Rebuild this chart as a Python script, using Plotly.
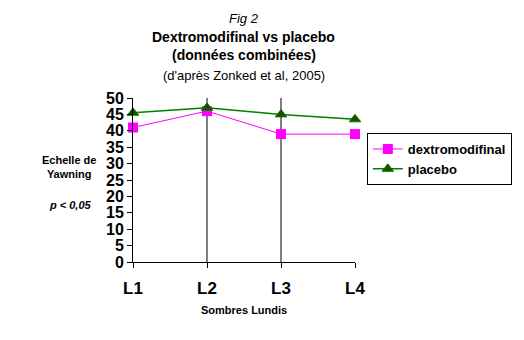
import plotly.graph_objects as go

categories = ["L1", "L2", "L3", "L4"]
dextro = [41, 46, 39, 39]
placebo = [45.5, 47, 45, 43.5]
y_ticks = list(range(0, 55, 5))
guide_cats = ["L2", "L3"]

xs = list(range(len(categories)))
FONT = "Liberation Sans, Arial, sans-serif"

L, R, T, B = 133, 166, 98, 78
W, H = 524, 340
pw, ph = W - L - R, H - T - B

def px(x):
    return (x - L) / pw

def py(y):
    return (H - B - y) / ph

fig = go.Figure()
fig.add_trace(go.Scatter(
    x=xs, y=dextro, name="<b>dextromodifinal</b>", mode="lines+markers",
    line=dict(color="#FF00FF", width=1),
    marker=dict(symbol="square", size=10, color="#FF00FF"),
    cliponaxis=False))
fig.add_trace(go.Scatter(
    x=xs, y=placebo, name="<b>placebo</b>", mode="lines+markers",
    line=dict(color="#008000", width=1.5),
    marker=dict(symbol="triangle-up", size=10, color="#1f4a00", line=dict(color="#008000", width=1)),
    cliponaxis=False))

for c in guide_cats:
    i = categories.index(c)
    fig.add_shape(type="line", xref="x", yref="y", x0=i, x1=i, y0=0, y1=max(y_ticks),
                  line=dict(color="black", width=1), layer="below")

def ann(text, x, y, size):
    return dict(text=text, x=px(x), y=py(y), xref="paper", yref="paper", showarrow=False,
                xanchor="center", yanchor="middle", font=dict(size=size, family=FONT, color="black"))

fig.update_layout(
    width=W, height=H,
    margin=dict(l=L, r=R, t=T, b=B),
    paper_bgcolor="white", plot_bgcolor="white",
    font=dict(family=FONT, color="black"),
    showlegend=True,
    legend=dict(x=px(370), y=py(133), xanchor="left", yanchor="top",
                bordercolor="black", borderwidth=1, bgcolor="white",
                font=dict(size=13, family=FONT), tracegroupgap=0,
                itemwidth=30),
    xaxis=dict(range=[0, len(categories) - 1], tickvals=xs, ticktext=[f"<b>{c}</b>" for c in categories],
               showgrid=False, zeroline=False, showline=True, linecolor="black", linewidth=1,
               ticks="outside", ticklen=5, tickcolor="black", ticklabelstandoff=6,
               tickfont=dict(size=17, family=FONT)),
    yaxis=dict(range=[0, 50], tickvals=y_ticks, ticktext=[f"<b>{v}</b>" for v in y_ticks],
               showgrid=False, zeroline=False, showline=True, linecolor="black", linewidth=1,
               ticks="outside", ticklen=5, tickcolor="black",
               tickfont=dict(size=16, family=FONT)),
    annotations=[
        ann("<i>Fig 2</i>", 245, 18, 13),
        ann("<b>Dextromodifinal vs placebo</b>", 245, 37, 14),
        ann("<b>(données combinées)</b>", 245, 55, 14),
        ann("(d'après Zonked et al, 2005)", 245, 75, 13),
        ann("<b>Echelle de<br>Yawning</b>", 68, 167, 11),
        ann("<b><i>p < 0,05</i></b>", 70, 205, 11),
        ann("<b>Sombres Lundis</b>", 245, 310, 11),
    ],
)

fig.write_html("out.html")
